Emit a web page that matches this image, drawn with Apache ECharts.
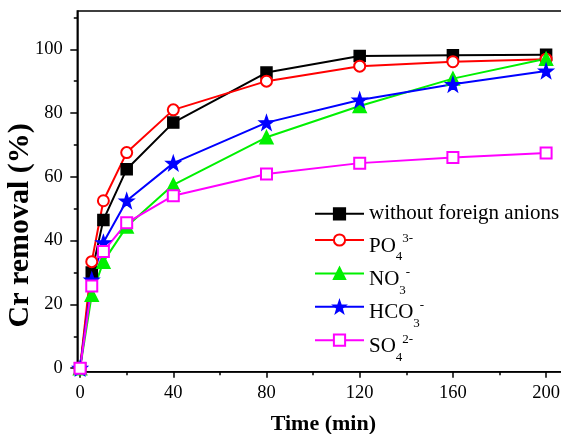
<!DOCTYPE html>
<html>
<head>
<meta charset="utf-8">
<script src="https://cdn.jsdelivr.net/npm/echarts@6.0.0/dist/echarts.min.js"></script>
<style>
html,body{margin:0;padding:0;background:#fff;}
#chart{width:561px;height:434px;}
</style>
</head>
<body>
<div id="chart"></div>
<script>
// ---- data ----
var timeMin = [0, 5, 10, 20, 40, 80, 120, 160, 200];
var withoutAnions = [0, 30.0, 46.5, 62.4, 77.0, 92.7, 97.9, 98.1, 98.3];
var po4 = [0, 33.4, 52.5, 67.6, 81.0, 90.0, 94.7, 96.1, 96.9];
var no3 = [0, 23.0, 33.4, 44.4, 57.5, 72.4, 82.2, 90.8, 97.0];
var hco3 = [0, 27.7, 39.4, 52.5, 64.3, 77.0, 84.1, 89.0, 93.2];
var so4 = [0, 25.8, 36.6, 45.6, 54.1, 60.9, 64.3, 66.1, 67.5];

var xTickLabels = [0, 40, 80, 120, 160, 200];
var xMinorTicks = [20, 60, 100, 140, 180];
var yTickLabels = [0, 20, 40, 60, 80, 100];
var yMinorTicks = [10, 30, 50, 70, 90, 110];

var seriesNames = ['without foreign anions', 'PO43-', 'NO3-', 'HCO3-', 'SO42-'];
var legendRich = {
  'without foreign anions': '{w|without foreign anions}',
  'PO43-': '{n|PO}{sub|4}{sup|3-}',
  'NO3-': '{n|NO}{sub|3}{sup|-}',
  'HCO3-': '{n|HCO}{sub|3}{sup|-}',
  'SO42-': '{n|SO}{sub|4}{sup|2-}'
};

function pairs(xs, ys) { return xs.map(function (x, i) { return [x, ys[i]]; }); }

var FONT = 'Liberation Serif, Times New Roman, serif';
var chart = echarts.init(document.getElementById('chart'));

function mkSeries(name, data, color, symbol, size) {
  return {
    name: name, type: 'line', data: pairs(timeMin, data),
    xAxisIndex: 0, yAxisIndex: 0,
    symbol: symbol, symbolSize: size,
    lineStyle: { color: color, width: 2 },
    itemStyle: { color: color, borderColor: color, borderWidth: 1.5 },
    emphasis: { disabled: true },
    animation: false
  };
}

var legendText = {
  fontFamily: FONT, color: '#000',
  rich: {
    w: { fontFamily: FONT, fontSize: 21, color: '#000' },
    n: { fontFamily: FONT, fontSize: 21, lineHeight: 22, padding: [12, 0, 0, 0], color: '#000' },
    sub: { fontFamily: FONT, fontSize: 13, lineHeight: 12, padding: [34, 0, 0, 0], color: '#000' },
    sup: { fontFamily: FONT, fontSize: 13, lineHeight: 12, padding: [0, 0, 2, 0], color: '#000' }
  }
};
function mkLegend(names, top, gap) {
  return {
    data: names, left: 314, top: top, orient: 'vertical',
    padding: 0, itemGap: gap, itemWidth: 49, itemHeight: 14,
    selectedMode: false,
    formatter: function (name) { return legendRich[name]; },
    textStyle: legendText
  };
}

var option = {
  animation: false,
  backgroundColor: '#fff',
  grid: {
    left: 77.3, top: 11, bottom: 62.3, right: -8.4,
    outerBoundsMode: 'none', containLabel: false,
    show: true, borderColor: '#000', borderWidth: 1.5, backgroundColor: 'transparent'
  },
  legend: [
    mkLegend(seriesNames.slice(0, 1), 203.3, 0),
    mkLegend(seriesNames.slice(1), 216.5, -13.6)
  ],
  xAxis: [
    {
      type: 'value', min: -1.2, max: 210, position: 'bottom',
      name: 'Time (min)', nameLocation: 'middle', nameGap: 42, nameMoveOverlap: false,
      nameTextStyle: { fontFamily: FONT, fontSize: 22, fontWeight: 'bold', color: '#000' },
      axisLine: { show: true, onZero: false, lineStyle: { color: '#000', width: 1.5 } },
      axisTick: { show: true, length: 6, customValues: xTickLabels, lineStyle: { color: '#000', width: 1.5 } },
      axisLabel: { show: true, customValues: xTickLabels, margin: 12, fontFamily: FONT, fontSize: 18.5, color: '#000' },
      splitLine: { show: false }
    },
    {
      type: 'value', min: -1.2, max: 210, position: 'bottom',
      axisLine: { show: false, onZero: false },
      axisTick: { show: true, length: 3.5, customValues: xMinorTicks, lineStyle: { color: '#000', width: 1.5 } },
      axisLabel: { show: false },
      splitLine: { show: false }
    }
  ],
  yAxis: [
    {
      type: 'value', min: -1.1, max: 112, position: 'left',
      name: 'Cr removal (%)', nameLocation: 'middle', nameGap: 42, nameRotate: 90, nameMoveOverlap: false,
      nameTextStyle: { fontFamily: FONT, fontSize: 30, fontWeight: 'bold', color: '#000', padding: [0, 68, 0, 0] },
      axisLine: { show: true, onZero: false, lineStyle: { color: '#000', width: 1.5 } },
      axisTick: { show: true, length: 7, customValues: yTickLabels, lineStyle: { color: '#000', width: 1.5 } },
      axisLabel: { show: true, customValues: yTickLabels, margin: 14.5, fontFamily: FONT, fontSize: 18.5, color: '#000' },
      splitLine: { show: false }
    },
    {
      type: 'value', min: -1.1, max: 112, position: 'left',
      axisLine: { show: false, onZero: false },
      axisTick: { show: true, length: 3.5, customValues: yMinorTicks, lineStyle: { color: '#000', width: 1.5 } },
      axisLabel: { show: false },
      splitLine: { show: false }
    }
  ],
  series: [
    mkSeries(seriesNames[0], withoutAnions, '#000000', 'rect', 11),
    mkSeries(seriesNames[1], po4, '#ff0000', 'emptyCircle', 11),
    mkSeries(seriesNames[2], no3, '#00f000', 'triangle', 13),
    mkSeries(seriesNames[3], hco3, '#0000ff', 'path://M0,-10 L2.35,-3.24 L9.51,-3.09 L3.8,1.24 L5.88,8.09 L0,4 L-5.88,8.09 L-3.8,1.24 L-9.51,-3.09 L-2.35,-3.24 Z', 14),
    mkSeries(seriesNames[4], so4, '#ff00ff', 'emptyRect', 11)
  ]
};
chart.setOption(option);
</script>
</body>
</html>
